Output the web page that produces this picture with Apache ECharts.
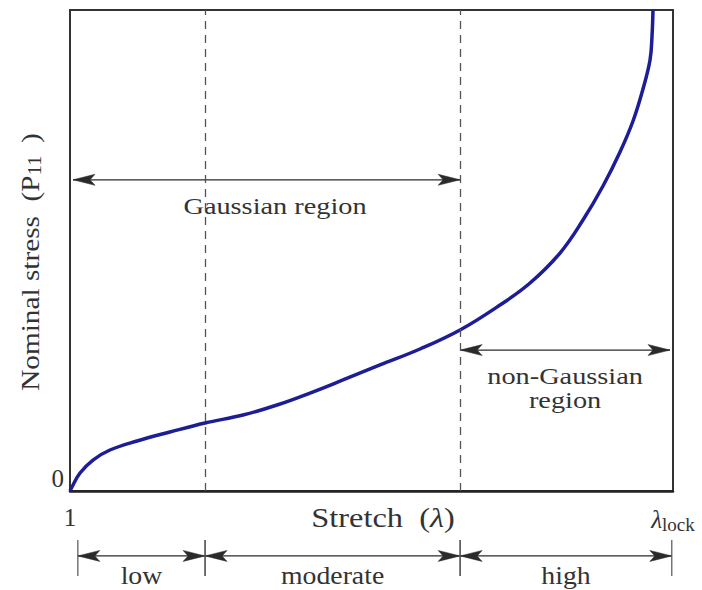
<!DOCTYPE html>
<html><head><meta charset="utf-8">
<script src="https://cdn.jsdelivr.net/npm/echarts@6/dist/echarts.min.js"></script>
<style>html,body{margin:0;padding:0;background:#fff}#c{width:702px;height:590px}</style>
</head><body><div id="c"></div>
<script>
// Curve (stretch from 1 at 0 to lambda_lock at 100; nominal stress 0..100, arbitrary units)
const stretch = [0, 0.33, 1.66, 3.81, 6.63, 11.11, 16.58, 22.39, 28.69, 34.33, 39.80, 45.27, 51.41, 58.04, 64.68, 71.31, 76.29, 81.26, 85.07, 88.39, 91.21, 93.37, 95.02, 96.19, 96.52, 96.68];
const stress  = [0, 0.83, 3.74, 6.44, 8.52, 10.40, 12.27, 14.14, 15.80, 17.88, 20.37, 23.08, 26.20, 29.52, 33.47, 38.67, 43.24, 49.48, 56.34, 63.41, 70.48, 76.92, 83.58, 89.60, 94.59, 100];

// Region boundaries (dashed)
const regionEdges = [22.4, 64.7];

// Tick labels
const xTickValues = [0, 100];
const xTickLabels = ['1', '{l|λ}{s|lock}'];
const yTickLabels = ['0'];

// Axis titles
const xTitle = '{n|Stretch  (}{l|λ}{n|)}';
const yTitle = '{n|Nominal stress  (P}{s|11 }{n| )}';

// In-plot region arrows
const regionFrom = [0.5, 64.7];
const regionTo = [64.7, 99.5];
const regionLevel = [64.7, 29.3];
const regionLabelX = [34.0, 82.1];
const regionNames = ['Gaussian region', 'non-Gaussian\nregion'];

// Stretch ranges below the axis
const rangeFrom = [1.3, 22.4, 64.7];
const rangeTo = [22.4, 64.7, 99.8];
const rangeLevel = -13.5;
const rangeNames = ['low', 'moderate', 'high'];

const FONT = "'Liberation Serif', 'DejaVu Serif', serif";
const INK = '#2a2a2a';
const TXT = '#333';

function head(tx, ty, dir) {
  const L = 22, W = 5.5, N = 5;
  return {
    type: 'polygon',
    shape: { points: [[tx, ty], [tx - dir * L, ty - W], [tx - dir * (L - N), ty], [tx - dir * L, ty + W]] },
    style: { fill: INK, stroke: INK, lineWidth: 0.5 }
  };
}

function arrowItem(p1, p2, extra) {
  const children = [
    { type: 'line', shape: { x1: p1[0], y1: p1[1], x2: p2[0], y2: p2[1] }, style: { stroke: INK, lineWidth: 1.3 } },
    head(p1[0], p1[1], -1),
    head(p2[0], p2[1], 1)
  ];
  return { type: 'group', children: children.concat(extra) };
}

const regionData = regionFrom.map((v, i) => [v, regionTo[i], regionLevel[i], regionLabelX[i]]);
const rangeData = rangeFrom.map((v, i) => [v, rangeTo[i], rangeLevel]);

const chart = echarts.init(document.getElementById('c'), null, { renderer: 'svg' });
chart.setOption({
  animation: false,
  backgroundColor: '#fff',
  grid: { left: 70, right: 29, top: 10, bottom: 99, show: true, borderColor: '#333', borderWidth: 2, backgroundColor: 'transparent' },
  xAxis: {
    type: 'value', min: 0, max: 100, interval: 100,
    axisLine: { show: true, lineStyle: { color: '#222', width: 2.5 } },
    axisTick: { show: false }, splitLine: { show: false },
    axisLabel: {
      margin: 14, fontFamily: FONT, fontSize: 25, color: TXT,
      formatter: v => xTickLabels[xTickValues.indexOf(v)] || '',
      rich: {
        l: { fontFamily: FONT, fontSize: 25, fontStyle: 'italic', color: TXT },
        s: { fontFamily: FONT, fontSize: 19, color: TXT, padding: [10, 0, 0, 0] }
      }
    }
  },
  yAxis: {
    type: 'value', min: 0, max: 100, interval: 100,
    axisLine: { show: true, lineStyle: { color: '#333', width: 2 } },
    axisTick: { show: false }, splitLine: { show: false },
    axisLabel: {
      margin: 6, fontFamily: FONT, fontSize: 25, color: TXT, verticalAlign: 'bottom',
      formatter: v => v === 0 ? yTickLabels[0] : ''
    }
  },
  graphic: [
    {
      type: 'text', x: 383, y: 517, scaleX: 1.2, silent: true,
      style: {
        text: xTitle, align: 'center', verticalAlign: 'middle',
        rich: {
          n: { fontFamily: FONT, fontSize: 27, fill: TXT },
          l: { fontFamily: FONT, fontSize: 27, fontStyle: 'italic', fill: TXT }
        }
      }
    },
    {
      type: 'text', x: 30, y: 262, rotation: Math.PI / 2, scaleX: 1.22, scaleY: 1.08, silent: true,
      style: {
        text: yTitle, align: 'center', verticalAlign: 'middle',
        rich: {
          n: { fontFamily: FONT, fontSize: 24, fill: TXT },
          s: { fontFamily: FONT, fontSize: 17, fill: TXT, padding: [9, 0, 0, 0] }
        }
      }
    }
  ],
  series: [
    {
      type: 'line', data: stretch.map((x, i) => [x, stress[i]]),
      smooth: 0.4, showSymbol: false, clip: false,
      lineStyle: { color: '#1d1d96', width: 3.5 },
      markLine: {
        silent: true, symbol: 'none', label: { show: false },
        lineStyle: { color: '#555', width: 1.3, type: [8, 6] },
        data: regionEdges.map(x => ({ xAxis: x }))
      }
    },
    {
      type: 'custom', clip: false, silent: true, data: regionData,
      renderItem: (params, api) => {
        const y = api.value(2);
        const p1 = api.coord([api.value(0), y]);
        const p2 = api.coord([api.value(1), y]);
        const lx = api.coord([api.value(3), y])[0];
        return arrowItem(p1, p2, [{
          type: 'text', x: lx, y: p1[1] + 14, scaleX: 1.18,
          style: { text: regionNames[params.dataIndex], fontFamily: FONT, fontSize: 24, fill: TXT, align: 'center', verticalAlign: 'top', lineHeight: 24 }
        }]);
      }
    },
    {
      type: 'custom', clip: false, silent: true, data: rangeData,
      renderItem: (params, api) => {
        const y = api.value(2);
        const p1 = api.coord([api.value(0), y]);
        const p2 = api.coord([api.value(1), y]);
        const tick = x => ({ type: 'line', shape: { x1: x, y1: p1[1] - 16, x2: x, y2: p1[1] + 20 }, style: { stroke: '#555', lineWidth: 1.2 } });
        return arrowItem(p1, p2, [tick(p1[0]), tick(p2[0]), {
          type: 'text', x: (p1[0] + p2[0]) / 2, y: p1[1] + 20, scaleX: 1.11,
          style: { text: rangeNames[params.dataIndex], fontFamily: FONT, fontSize: 25, fill: TXT, align: 'center', verticalAlign: 'middle' }
        }]);
      }
    }
  ]
});
</script></body></html>
